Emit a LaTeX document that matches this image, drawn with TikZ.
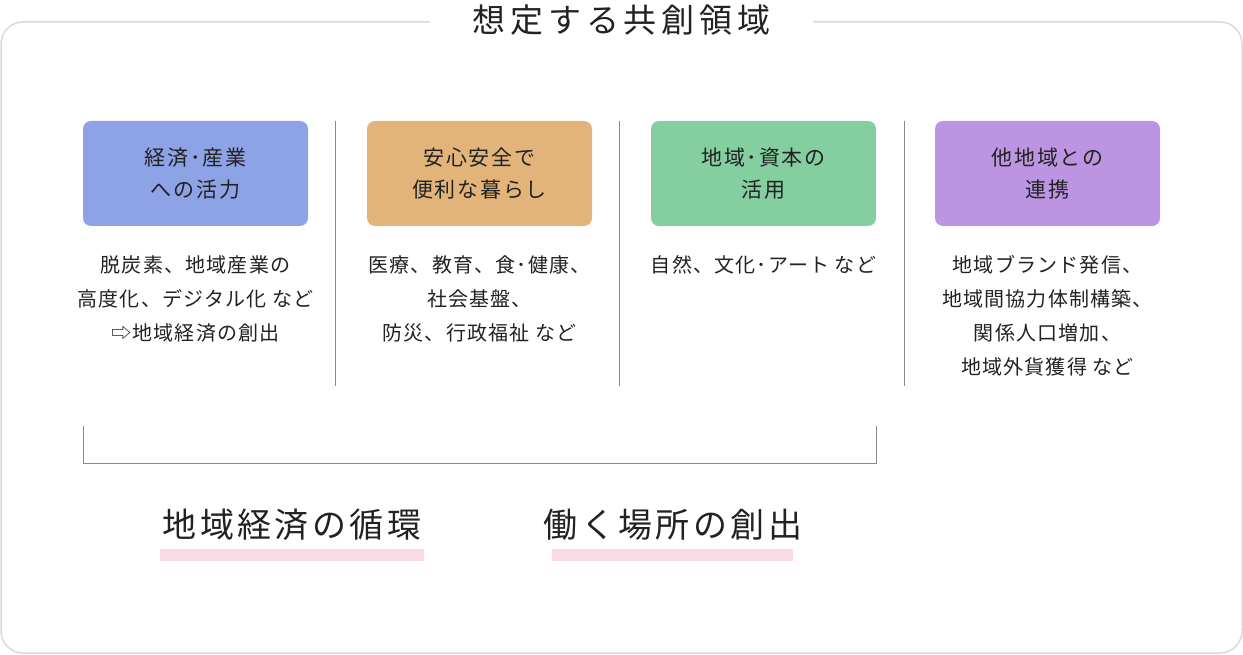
\documentclass[tikz,border=0pt]{standalone}
\usepackage{fontspec}
\setmainfont{Noto Sans CJK JP}
\newfontfamily\titlefont[LetterSpace=15]{Noto Sans CJK JP}
\newfontfamily\boxfont[LetterSpace=8]{Noto Sans CJK JP}
\newfontfamily\notefont[LetterSpace=6]{Noto Sans CJK JP}
\newfontfamily\goalfont[LetterSpace=10]{Noto Sans CJK JP}

\definecolor{fieldblue}{HTML}{8EA2E6}
\definecolor{fieldorange}{HTML}{E3B479}
\definecolor{fieldgreen}{HTML}{84CEA0}
\definecolor{fieldpurple}{HTML}{BC94E2}
\definecolor{markpink}{HTML}{FBDBE3}
\definecolor{framegray}{HTML}{DADADA}
\definecolor{sepgray}{HTML}{8A8A8A}
\definecolor{inkblack}{HTML}{222222}

\tikzstyle{frame line}=[draw=framegray, line width=1.5pt, rounded corners=22pt]
\tikzstyle{sep line}=[draw=sepgray, line width=1pt]
\tikzstyle{field}=[rounded corners=8pt, minimum width=225pt, minimum height=105pt, align=center, text=inkblack, font=\boxfont\fontsize{21}{32}\selectfont]
\tikzstyle{note}=[anchor=north, inner sep=0pt, align=center, text=inkblack, font=\notefont\fontsize{20}{34}\selectfont]
\tikzstyle{goal}=[inner sep=0pt, text=inkblack, font=\goalfont\fontsize{34}{40}\selectfont]
\tikzstyle{goalmark}=[fill=markpink]

\begin{document}
\begin{tikzpicture}[x=1pt, y=-1pt]
	\useasboundingbox (0,0) rectangle (1243,655);

	% Outer frame and heading
	\draw[frame line] (1,22) rectangle (1242,653);
	\node[fill=white, minimum width=383pt, inner ysep=2pt, text=inkblack, font=\titlefont\fontsize{33}{36}\selectfont] (title) at (621.5,20) {想定する共創領域};

	% Four fields
	\node[field, fill=fieldblue]   (econ)   at ( 195.5,173.5) {経済･産業\\への活力};
	\node[field, fill=fieldorange] (life)   at ( 479.5,173.5) {安心安全で\\便利な暮らし};
	\node[field, fill=fieldgreen]  (asset)  at ( 763.5,173.5) {地域･資本の\\活用};
	\node[field, fill=fieldpurple] (link)   at (1047.5,173.5) {他地域との\\連携};

	\node[note] (econnote)  at ( 195.5,255) {脱炭素、地域産業の\\高度化、デジタル化 など\\⇨地域経済の創出};
	\node[note] (lifenote)  at ( 479.5,255) {医療、教育、食･健康、\\社会基盤、\\防災、行政福祉 など};
	\node[note] (assetnote) at ( 763.5,255) {自然、文化･アート など};
	\node[note] (linknote)  at (1047.5,255) {地域ブランド発信、\\地域間協力体制構築、\\関係人口増加、\\地域外貨獲得 など};

	\foreach \x in {335, 619, 904}{ \draw[sep line] (\x,121) -- (\x,386); }

	% Bracket under the first three fields
	\coordinate (bracketl) at (83,426);
	\coordinate (bracketr) at (876,426);
	\draw[sep line] (bracketl) |- (bracketr |- 0,463) -- (bracketr);

	% Goals
	\node[goal] (cycle) at (292,525) {地域経済の循環};
	\node[goal] (jobs)  at (673,525) {働く場所の創出};
	\fill[goalmark] (160,549) rectangle (424,561);
	\fill[goalmark] (552,549) rectangle (793,561);
\end{tikzpicture}
\end{document}
